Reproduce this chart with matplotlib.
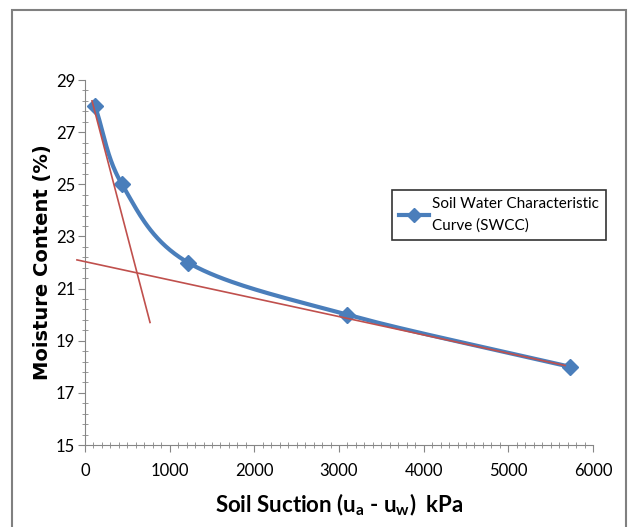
import matplotlib.pyplot as plt
import matplotlib.patches as patches
import numpy as np

plt.rcParams['font.family'] = ['Lato', 'DejaVu Sans']

# SWCC measurements
suction = [118, 437, 1216, 3094, 5728]
moisture = [28.0, 25.0, 22.0, 20.0, 18.0]

# tangent lines drawn by hand on the chart
tan1_x = [83, 768]
tan1_y = [28.2, 19.7]
tan2_x = [-95, 5670]
tan2_y = [22.1, 18.05]


def smooth(x, y, n=40):
    # catmull-rom curve through the points, like excel's smoothed line
    x = np.asarray(x, float)
    y = np.asarray(y, float)
    px = np.concatenate([[2*x[0]-x[1]], x, [2*x[-1]-x[-2]]])
    py = np.concatenate([[2*y[0]-y[1]], y, [2*y[-1]-y[-2]]])
    xs, ys = [], []
    t = np.linspace(0, 1, n)
    for i in range(1, len(px) - 2):
        for p, out in ((px, xs), (py, ys)):
            p0, p1, p2, p3 = p[i-1], p[i], p[i+1], p[i+2]
            out.append(0.5 * ((2*p1) + (-p0 + p2)*t + (2*p0 - 5*p1 + 4*p2 - p3)*t**2
                              + (-p0 + 3*p1 - 3*p2 + p3)*t**3))
    return np.concatenate(xs), np.concatenate(ys)


fig = plt.figure(figsize=(6.3, 5.27), dpi=100)
ax = fig.add_axes([85/630, 1 - 445/527, 508/630, 365/527])

# outer chart border
fig.patches.append(patches.Rectangle((12/630, -0.01), 614/630, 1 - 10/527 + 0.01,
                                     transform=fig.transFigure, fill=False,
                                     edgecolor='#808080', linewidth=1.5))

blue = '#4A7EBB'
red = '#C0504D'

sx, sy = smooth(suction, moisture)
ax.plot(sx, sy, color=blue, linewidth=3, solid_capstyle='round', zorder=3)
ax.plot(suction, moisture, linestyle='none', marker='D', markersize=8,
        color=blue, zorder=4)
ax.plot([], [], color=blue, linewidth=3, marker='D', markersize=7,
        label='Soil Water Characteristic\nCurve (SWCC)')

ax.plot(tan1_x, tan1_y, color=red, linewidth=1.2, zorder=5, clip_on=False)
ax.plot(tan2_x, tan2_y, color=red, linewidth=1.2, zorder=5, clip_on=False)

ax.set_xlim(0, 6000)
ax.set_ylim(15, 29)
ax.set_xticks(np.arange(0, 6001, 1000))
ax.set_yticks(np.arange(15, 30, 2))
ax.set_xticks(np.arange(0, 6001, 100), minor=True)
ax.set_yticks(np.arange(15, 29.01, 0.4), minor=True)

for s in ['top', 'right']:
    ax.spines[s].set_visible(False)
for s in ['left', 'bottom']:
    ax.spines[s].set_color('#868686')

ax.tick_params(which='major', direction='out', length=5, color='#868686',
               labelsize=12)
ax.tick_params(axis='y', which='major', pad=2)
ax.tick_params(axis='x', which='major', pad=8)
ax.tick_params(which='minor', direction='inout', length=5, color='#868686')

ax.set_xlabel('Soil Suction (u$_\\mathregular{a}$ - u$_\\mathregular{w}$)  kPa',
              fontsize=16, fontweight='bold', labelpad=9)
ax.set_ylabel('Moisture Content (%)', fontsize=14, fontweight='bold',
              family='DejaVu Sans', labelpad=3)

leg = ax.legend(loc='upper left', bbox_to_anchor=(307/508, 1 - 110/365),
                fontsize=11, frameon=True, fancybox=False, handlelength=2.0,
                borderpad=0.45, handletextpad=0.2, borderaxespad=0)
for txt in leg.get_texts():
    txt.set_linespacing(1.7)
leg.get_frame().set_edgecolor('black')
leg.get_frame().set_linewidth(1.2)

fig.savefig('out.png', dpi=100)
